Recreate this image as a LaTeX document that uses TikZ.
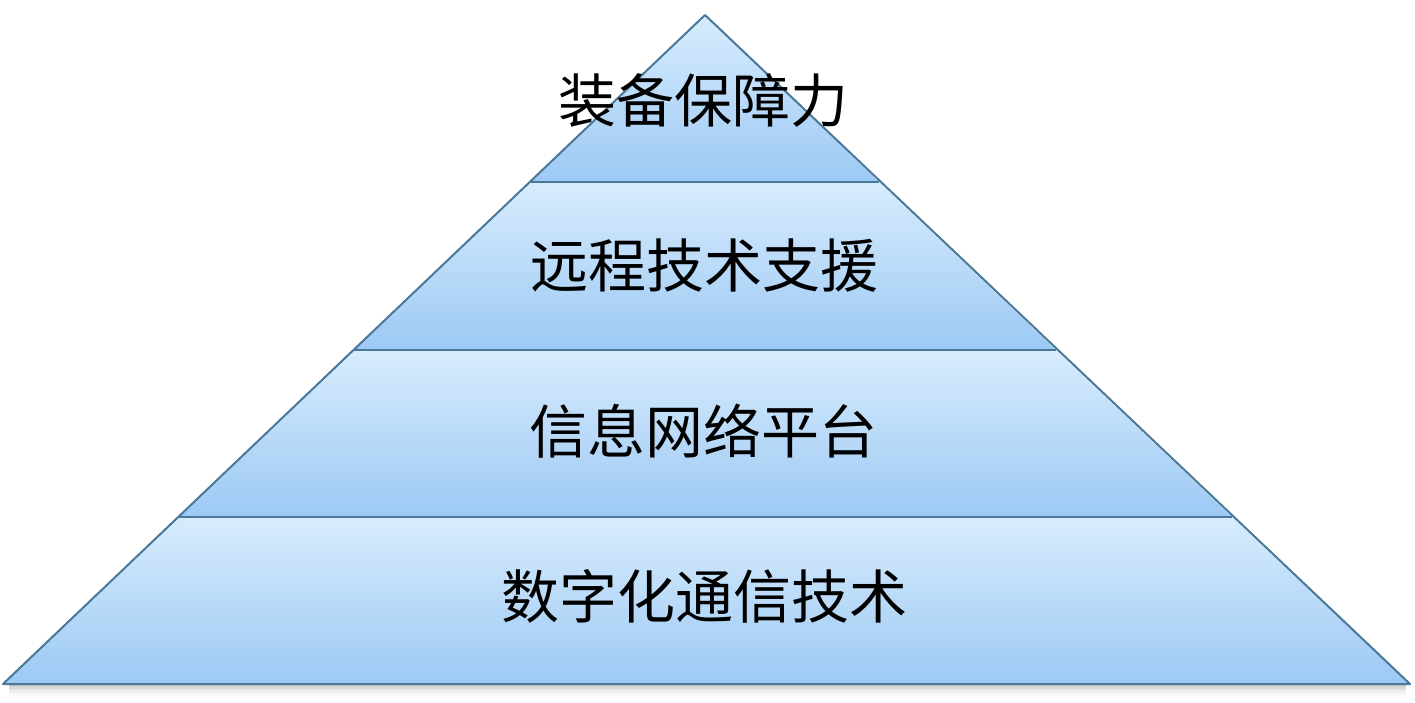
\documentclass[tikz,border=0pt]{standalone}
\usepackage{fontspec}
\newfontfamily\cjk{Noto Sans CJK SC}
\usetikzlibrary{calc}
\definecolor{bandtop}{HTML}{D8ECFD}
\definecolor{bandbot}{HTML}{9CC9F4}
\definecolor{edgeblue}{HTML}{4A7898}
\tikzset{
  band/.style={top color=bandtop, bottom color=bandbot, draw=none},
  edge/.style={draw=edgeblue, line width=2pt, line join=round},
  label/.style={font=\cjk\fontsize{58}{62}\selectfont, text=black, inner sep=0pt}
}
\begin{document}
\begin{tikzpicture}[x=1pt,y=-1pt]
\useasboundingbox (0,0) rectangle (1415,702);
\fill[white] (0,0) rectangle (1415,702);
% key points
\coordinate (A) at (705,15);
\coordinate (L1) at (531,182); \coordinate (R1) at (879,182);
\coordinate (L2) at (354,350); \coordinate (R2) at (1056,350);
\coordinate (L3) at (178,517); \coordinate (R3) at (1232,517);
\coordinate (L4) at (3,684);   \coordinate (R4) at (1410,684);
% shadow
\foreach \i/\o in {1/0.22,2/0.18,3/0.14,4/0.10,5/0.07,6/0.05,7/0.03,8/0.02}{
  \fill[black, opacity=\o] ($(L4)+(6,\i*1.5-1.5)$) rectangle ($(R4)+(-4,\i*1.5)$);
}
% bands
\shade[band] (A) -- (R1) -- (L1) -- cycle;
\shade[band] (L1) -- (R1) -- (R2) -- (L2) -- cycle;
\shade[band] (L2) -- (R2) -- (R3) -- (L3) -- cycle;
\shade[band] (L3) -- (R3) -- (R4) -- (L4) -- cycle;
% outlines
\draw[edge] (A) -- (R4) -- (L4) -- cycle;
\draw[edge] (L1) -- (R1);
\draw[edge] (L2) -- (R2);
\draw[edge] (L3) -- (R3);
% labels
\node[label] (t1) at (703,100) {装备保障力};
\node[label] (t2) at (704,266) {远程技术支援};
\node[label] (t3) at (703,431) {信息网络平台};
\node[label] (t4) at (704,596) {数字化通信技术};
\end{tikzpicture}
\end{document}
